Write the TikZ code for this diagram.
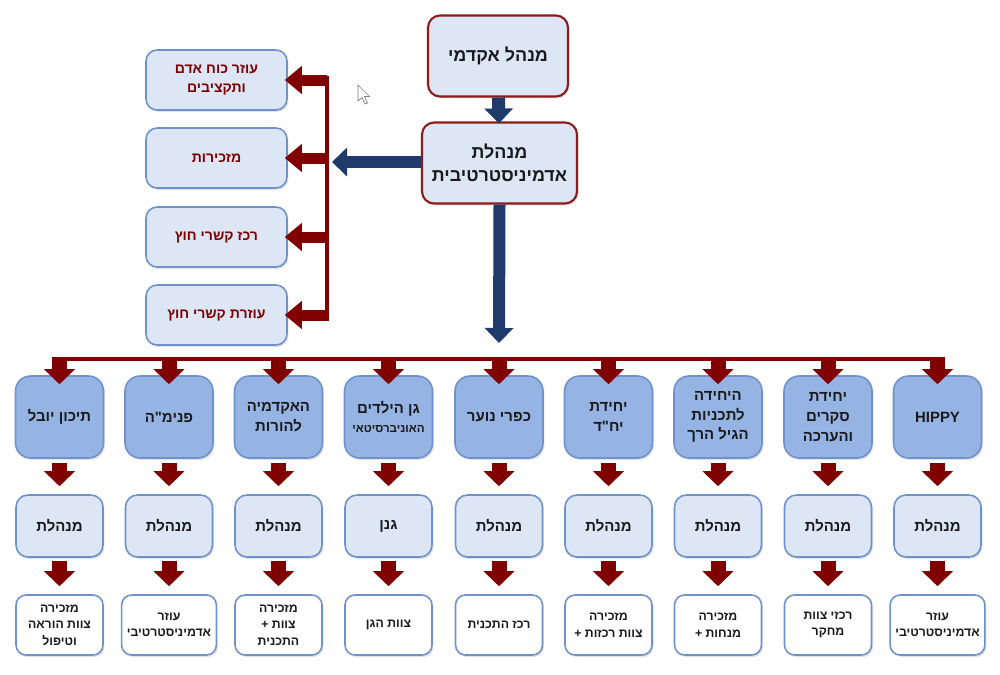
\documentclass[tikz,border=0pt]{standalone}
\usepackage{fontspec}
\newfontfamily\hebfont[Script=Hebrew]{Liberation Sans}
\TeXXeTstate=1
\usetikzlibrary{
    arrows.meta,
    positioning,
    shadows,
}

\definecolor{darkred}{HTML}{800000}
\definecolor{boxred}{HTML}{8E1B1B}
\definecolor{navy}{HTML}{1F3B6B}
\definecolor{paleblue}{HTML}{DCE6F5}
\definecolor{midblue}{HTML}{95B3E3}
\definecolor{edgeblue}{HTML}{6F92CD}
\definecolor{inkgray}{HTML}{1A1A1A}

\newcommand{\rl}[1]{\beginR#1\endR}

\tikzset{
    boxshadow/.style={drop shadow={shadow xshift=0.03cm, shadow yshift=-0.04cm, opacity=0.22}},
    headbox/.style={draw=boxred, line width=1.2pt, fill=paleblue, rounded corners=0.24cm,
        minimum width=2.8cm, minimum height=1.62cm, align=center, text=inkgray, boxshadow,
        font=\hebfont\bfseries\fontsize{10.2}{13}\selectfont},
    sidebox/.style={draw=edgeblue, line width=0.9pt, fill=paleblue, rounded corners=0.22cm,
        minimum width=2.82cm, minimum height=1.2cm, align=center, text=darkred, boxshadow,
        font=\hebfont\bfseries\fontsize{8}{11}\selectfont},
    unitbox/.style={draw=edgeblue, line width=0.9pt, fill=midblue, rounded corners=0.3cm,
        minimum width=1.76cm, minimum height=1.64cm, align=center, text=inkgray, boxshadow,
        font=\hebfont\bfseries\fontsize{8.5}{11.3}\selectfont},
    mgmtbox/.style={draw=edgeblue, line width=0.9pt, fill=paleblue, rounded corners=0.24cm,
        minimum width=1.74cm, minimum height=1.24cm, align=center, text=inkgray, boxshadow,
        font=\hebfont\bfseries\fontsize{8.5}{11.3}\selectfont},
    staffbox/.style={draw=edgeblue, line width=0.9pt, fill=white, rounded corners=0.2cm,
        minimum width=1.74cm, minimum height=1.2cm, inner xsep=3pt, align=center, text=inkgray, boxshadow,
        font=\hebfont\bfseries\fontsize{7}{9.3}\selectfont},
    fatred/.style={draw=darkred, line width=0.3cm, -{Triangle[width=0.6cm, length=0.3cm]}},
    thinred/.style={draw=darkred, line width=0.22cm, -{Triangle[width=0.54cm, length=0.34cm]}},
    navyarrow/.style={draw=navy, line width=0.26cm, -{Triangle[width=0.56cm, length=0.3cm]}},
    busline/.style={draw=darkred, line width=0.08cm},
}

\begin{document}
\begin{tikzpicture}[x=0.02cm, y=-0.02cm]
    \useasboundingbox[fill=white] (0,0) rectangle (1000,674);

    % top of the chart
    \node[headbox] (acad) at (498,56) {\rl{מנהל אקדמי}};
    \node[headbox, minimum width=3.1cm] (admin) at (499.5,163) {\rl{מנהלת}\\\rl{אדמיניסטרטיבית}};

    % side units
    \node[sidebox] (side1) at (216.5,80) {\rl{עוזר כוח אדם}\\\rl{ותקציבים}};
    \node[sidebox] (side2) at (216.5,158) {\rl{מזכירות}};
    \node[sidebox] (side3) at (216.5,237) {\rl{רכז קשרי חוץ}};
    \node[sidebox] (side4) at (216.5,315) {\rl{עוזרת קשרי חוץ}};

    \coordinate (vtop) at (327,76);
    \coordinate (vbot) at (327,321);
    \coordinate (navytip) at (332,162);
    \coordinate (downtip) at (499,343);
    \coordinate (busleft) at (52,359);
    \coordinate (busright) at (945,359);

    \draw[navyarrow, shorten >=-0.04cm] (acad) -- (admin);
    \draw[navyarrow, line width=0.24cm] (admin.west |- navytip) -- (navytip);
    \draw[navyarrow, line width=0.24cm] (admin.south) -- (downtip);

    \draw[busline] (vtop) -- (vbot);
    \foreach \k in {1,...,4}{
        \coordinate (l\k) at (vtop |- side\k.east);
        \draw[thinred, shorten >=-0.06cm] (l\k) -- (side\k.east);
    }

    \draw[busline] (busleft) -- (busright);

    % the nine units
    \foreach \i/\x/\unit/\mgmt/\staff in {
        1/59.5/{\rl{תיכון יובל}}/{\rl{מנהלת}}/{\rl{מזכירה}\\\rl{צוות הוראה}\\\rl{וטיפול}},
        2/169/{\rl{פנימ"ה}}/{\rl{מנהלת}}/{\rl{עוזר}\\\rl{אדמיניסטרטיבי}},
        3/278.5/{\rl{האקדמיה}\\\rl{להורות}}/{\rl{מנהלת}}/{\rl{מזכירה}\\+ \rl{צוות}\\\rl{התכנית}},
        4/388.5/{\rl{גן הילדים}\\{\fontsize{6.6}{8.5}\selectfont\rl{האוניברסיטאי}}}/{\rl{גנן}}/{\rl{צוות הגן}},
        5/499/{\rl{כפרי נוער}}/{\rl{מנהלת}}/{\rl{רכז התכנית}},
        6/608.5/{\rl{יחידת}\\\rl{יח"ד}}/{\rl{מנהלת}}/{\rl{מזכירה}\\+ \rl{צוות רכזות}},
        7/718/{\rl{היחידה}\\\rl{לתכניות}\\\rl{הגיל הרך}}/{\rl{מנהלת}}/{\rl{מזכירה}\\+ \rl{מנחות}},
        8/828/{\rl{יחידת}\\\rl{סקרים}\\\rl{והערכה}}/{\rl{מנהלת}}/{\rl{רכזי צוות}\\\rl{מחקר}},
        9/937.5/{HIPPY}/{\rl{מנהלת}}/{\rl{עוזר}\\\rl{אדמיניסטרטיבי}}%
    }{
        \node[unitbox] (u\i) at (\x,417) {\unit};
        \node[mgmtbox] (m\i) at (\x,526) {\mgmt};
        \node[staffbox] (s\i) at (\x,625) {\staff};
        \coordinate (t\i) at (\x,357);
        \draw[fatred, shorten >=-0.18cm] (t\i) -- (u\i.north);
        \draw[fatred, shorten <=0.08cm, shorten >=0.16cm] (u\i) -- (m\i);
        \draw[fatred, shorten <=0.06cm, shorten >=0.16cm] (m\i) -- (s\i);
    }

    % mouse pointer left in the screenshot
    \draw[gray, fill=white, line width=0.4pt] (358,85) -- (358,101) -- (362,97.5) -- (365,104)
        -- (367.5,103) -- (364.5,96.5) -- (369.5,96.5) -- cycle;
\end{tikzpicture}
\end{document}
